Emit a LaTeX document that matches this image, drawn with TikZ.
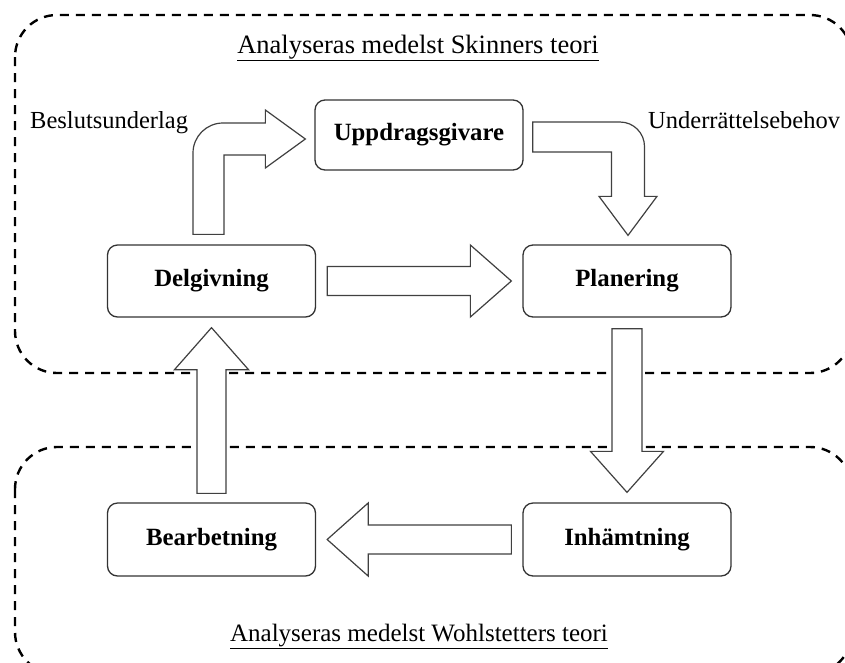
\documentclass[tikz,border=0pt]{standalone}
\usepackage{fontspec}
\setmainfont{Liberation Serif}
\usetikzlibrary{calc}
\begin{document}
\begin{tikzpicture}[x=1pt,y=-1pt,
  proc/.style={draw=black!80, line width=1.3pt, rounded corners=10pt,
    minimum width=208pt, minimum height=72pt, inner sep=0pt, fill=white,
    font=\fontsize{24.8}{28}\selectfont\bfseries},
  barrow/.style={draw=black!75, line width=1.2pt, fill=white, line join=miter},
  zone/.style={draw=black, line width=2.4pt, dash pattern=on 9pt off 7pt, rounded corners=42pt},
  lbl/.style={font=\fontsize{24.5}{28}\selectfont, inner sep=0pt}]
\useasboundingbox (0,0) rectangle (845,662);
\clip (0,0) rectangle (845,662);
\fill[white] (0,0) rectangle (845,662);

% zones
\draw[zone] (15,15) rectangle (852,373);
\draw[zone] (15,447) rectangle (852,674);

% nodes
\node[proc, minimum height=70pt] (upp) at (419,135) {Uppdragsgivare};
\node[proc] (del) at (211.5,281) {Delgivning};
\node[proc] (plan) at (627,281) {Planering};
\node[proc, minimum height=73pt] (bear) at (211.5,539.5) {Bearbetning};
\node[proc, minimum height=73pt] (inh) at (627,539.5) {Inh\"amtning};

% labels
\node[lbl, anchor=base, font=\fontsize{26.5}{30}\selectfont] (t1) at (418,53) {\underline{Analyseras medelst Skinners teori}};
\node[lbl, anchor=base, font=\fontsize{25}{30}\selectfont] (t2) at (419,641) {\underline{Analyseras medelst Wohlstetters teori}};
\node[lbl, anchor=base west] (l1) at (30,128) {Beslutsunderlag};
\node[lbl, anchor=base west] (l2) at (648,128) {Underr\"attelsebehov};

% bent arrow Delgivning -> Uppdragsgivare
\coordinate (A1) at ($(del.north)+(-18.5,-10)$);
\coordinate (A2) at ($(upp.west)+(-9,4)$);
\draw[barrow] (A1) -- ($(A1|-A2)+(0,14)$) arc[start angle=180, end angle=270, radius=30]
  -- ($(A2)+(-40,-16)$) -- ($(A2)+(-40,-29)$) -- (A2) -- ($(A2)+(-40,29)$)
  -- ($(A2)+(-40,16)$) -- ($(A1|-A2)+(31,16)$) -- ($(A1)+(31,0)$) -- cycle;

% bent arrow Uppdragsgivare -> Planering
\coordinate (B1) at ($(upp.east)+(9,2)$);
\coordinate (B2) at ($(plan.north)+(1,-9)$);
\draw[barrow] ($(B1)+(0,-15)$) -- ($(B2|-B1)+(-8,-15)$) arc[start angle=270, end angle=360, radius=24.5]
  -- ($(B2)+(16.5,-39)$) -- ($(B2)+(29,-39)$) -- (B2) -- ($(B2)+(-29,-39)$)
  -- ($(B2)+(-16.5,-39)$) -- ($(B2|-B1)+(-16.5,15)$) -- ($(B1)+(0,15)$) -- cycle;

% Delgivning -> Planering
\coordinate (C1) at ($(del.east)+(11,0)$);
\coordinate (C2) at ($(plan.west)+(-11,0)$);
\draw[barrow] ($(C1)+(0,-14.5)$) -- ($(C2)+(-41,-14.5)$) -- ($(C2)+(-41,-36)$) -- (C2)
  -- ($(C2)+(-41,36)$) -- ($(C2)+(-41,14.5)$) -- ($(C1)+(0,14.5)$) -- cycle;

% Planering -> Inhamtning
\coordinate (D1) at ($(plan.south)+(0,11)$);
\coordinate (D2) at ($(inh.north)+(0,-10)$);
\draw[barrow] ($(D1)+(-15,0)$) -- ($(D2)+(-15,-41)$) -- ($(D2)+(-36.5,-41)$) -- (D2)
  -- ($(D2)+(36.5,-41)$) -- ($(D2)+(15,-41)$) -- ($(D1)+(15,0)$) -- cycle;

% Inhamtning -> Bearbetning
\coordinate (E1) at ($(inh.west)+(-11,0)$);
\coordinate (E2) at ($(bear.east)+(11,0)$);
\draw[barrow] ($(E1)+(0,-14.5)$) -- ($(E2)+(41,-14.5)$) -- ($(E2)+(41,-36.5)$) -- (E2)
  -- ($(E2)+(41,36.5)$) -- ($(E2)+(41,14.5)$) -- ($(E1)+(0,14.5)$) -- cycle;

% Bearbetning -> Delgivning
\coordinate (F1) at ($(bear.north)+(0,-9)$);
\coordinate (F2) at ($(del.south)+(0,10)$);
\draw[barrow] ($(F1)+(-14.5,0)$) -- ($(F2)+(-14.5,42)$) -- ($(F2)+(-37,42)$) -- (F2)
  -- ($(F2)+(37,42)$) -- ($(F2)+(14.5,42)$) -- ($(F1)+(14.5,0)$) -- cycle;
\end{tikzpicture}
\end{document}
